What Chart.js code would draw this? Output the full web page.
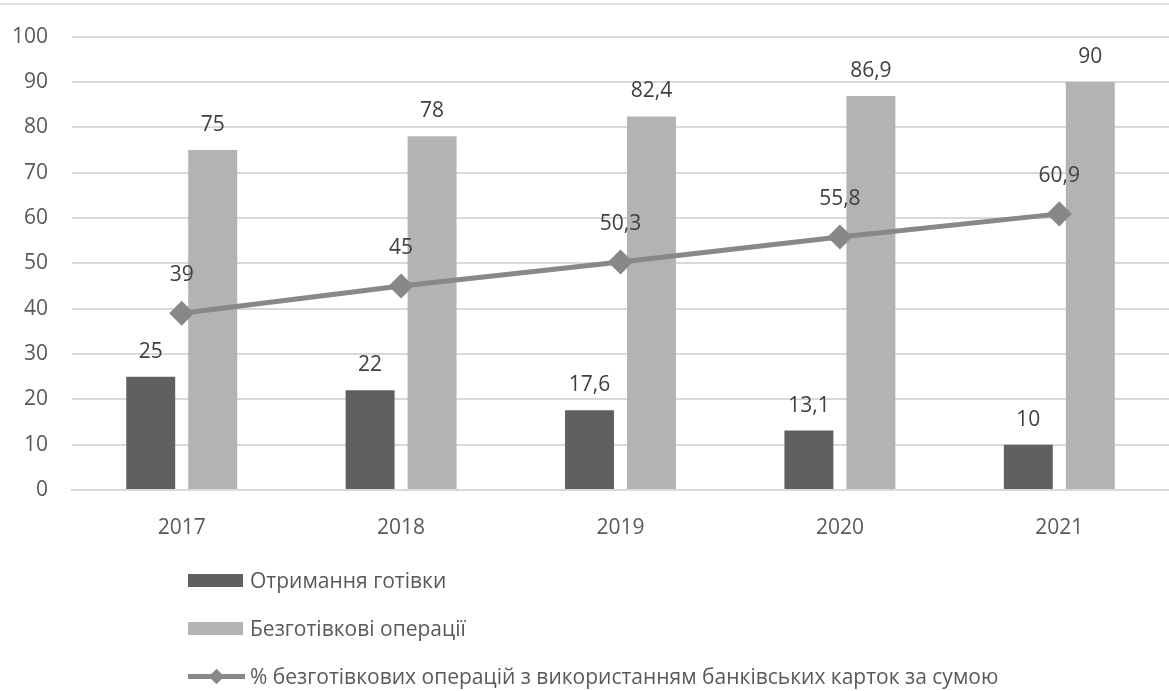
<!DOCTYPE html>
<html>
<head>
<meta charset="utf-8">
<script src="https://cdn.jsdelivr.net/npm/chart.js@4"></script>
<style>
  html, body { margin: 0; padding: 0; background: #fff; overflow: hidden; }
  #wrap { position: relative; width: 1169px; height: 691px; }
  #legend { position: absolute; left: 188px; top: 556px; font-family: "Open Sans", sans-serif; font-size: 21px; color: #595959; }
  .row { height: 48px; display: flex; align-items: center; }
  .box { width: 55px; height: 13px; margin-right: 7px; }
  .lineSw { position: relative; width: 57px; height: 5px; margin-right: 5px; }
  .lineSw i { position: absolute; left: 23px; top: -3px; width: 11px; height: 11px; transform: rotate(45deg); }
</style>
</head>
<body>
<div id="wrap">
  <canvas id="myChart" width="1169" height="691"></canvas>
  <div id="legend"></div>
</div>
<script>
const years = ['2017', '2018', '2019', '2020', '2021'];
const cashValues = [25, 22, 17.6, 13.1, 10];
const cashlessValues = [75, 78, 82.4, 86.9, 90];
const cardShareValues = [39, 45, 50.3, 55.8, 60.9];

const seriesNames = [
  'Отримання готівки',
  'Безготівкові операції',
  '% безготівкових операцій з використанням банківських карток за сумою'
];

const fontFamily = '"Open Sans", sans-serif';
const fmt = v => String(v).replace('.', ',');

// value labels above bars and points
const valueLabels = {
  id: 'valueLabels',
  afterDatasetsDraw(chart) {
    const ctx = chart.ctx;
    ctx.save();
    ctx.font = '21px ' + fontFamily;
    ctx.fillStyle = '#404040';
    ctx.textAlign = 'center';
    ctx.textBaseline = 'middle';
    chart.data.datasets.forEach((ds, i) => {
      const meta = chart.getDatasetMeta(i);
      meta.data.forEach((el, j) => {
        const off = ds.type === 'line' ? 38 : 25;
        ctx.fillText(fmt(ds.data[j]), el.x, el.y - off);
      });
    });
    ctx.restore();
  },
  beforeDraw(chart) {
    const ctx = chart.ctx;
    ctx.save();
    ctx.strokeStyle = '#d9d9d9';
    ctx.lineWidth = 1.5;
    ctx.beginPath();
    ctx.moveTo(0, 4);
    ctx.lineTo(chart.width, 4);
    ctx.stroke();
    ctx.restore();
  }
};

const data = {
  labels: years,
  datasets: [
    {
      type: 'line',
      label: seriesNames[2],
      data: cardShareValues,
      borderColor: '#888888',
      backgroundColor: '#888888',
      borderWidth: 5,
      pointStyle: 'rectRot',
      pointRadius: 9,
      pointHoverRadius: 9,
      order: 0
    },
    {
      type: 'bar',
      label: seriesNames[0],
      data: cashValues,
      backgroundColor: '#606060',
      categoryPercentage: 0.565,
      barPercentage: 0.79,
      order: 1
    },
    {
      type: 'bar',
      label: seriesNames[1],
      data: cashlessValues,
      backgroundColor: '#b3b3b3',
      categoryPercentage: 0.565,
      barPercentage: 0.79,
      order: 1
    }
  ]
};

const config = {
  type: 'bar',
  data: data,
  plugins: [valueLabels],
  options: {
    responsive: false,
    animation: false,
    layout: {
      autoPadding: false,
      padding: { top: 35, right: 0, left: 0, bottom: 0 }
    },
    scales: {
      x: {
        grid: { display: false },
        border: { color: '#d9d9d9', width: 2 },
        ticks: {
          color: '#595959',
          font: { family: fontFamily, size: 21 },
          padding: 17
        },
        afterFit(scale) {
          scale.height = 201;
          scale.paddingLeft = 0;
          scale.paddingRight = 0;
        }
      },
      y: {
        min: 0,
        max: 100,
        border: { display: false },
        grid: { color: '#d9d9d9', lineWidth: 2, drawTicks: false },
        ticks: {
          stepSize: 10,
          color: '#595959',
          font: { family: fontFamily, size: 21 },
          padding: 24
        },
        afterFit(scale) { scale.width = 72; }
      }
    },
    plugins: {
      legend: { display: false },
      tooltip: { enabled: false }
    }
  }
};

const myChart = new Chart(document.getElementById('myChart'), config);

// html legend in the original order
const legend = document.getElementById('legend');
[1, 2, 0].forEach(i => {
  const ds = myChart.data.datasets[i];
  const row = document.createElement('div');
  row.className = 'row';
  let sw;
  if (ds.type === 'line') {
    sw = document.createElement('div');
    sw.className = 'lineSw';
    sw.style.background = ds.borderColor;
    const d = document.createElement('i');
    d.style.background = ds.borderColor;
    sw.appendChild(d);
  } else {
    sw = document.createElement('div');
    sw.className = 'box';
    sw.style.background = ds.backgroundColor;
  }
  const txt = document.createElement('span');
  txt.textContent = ds.label;
  row.appendChild(sw);
  row.appendChild(txt);
  legend.appendChild(row);
});
</script>
</body>
</html>
